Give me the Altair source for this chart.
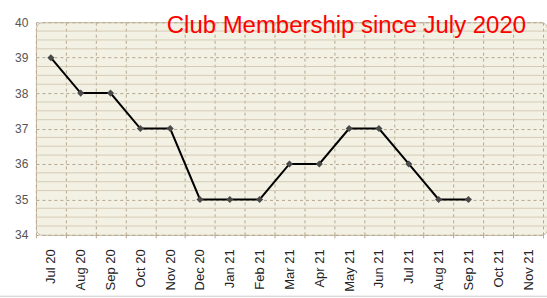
import altair as alt
import pandas as pd

months = ["Jul 20", "Aug 20", "Sep 20", "Oct 20", "Nov 20", "Dec 20", "Jan 21", "Feb 21",
          "Mar 21", "Apr 21", "May 21", "Jun 21", "Jul 21", "Aug 21", "Sep 21", "Oct 21", "Nov 21"]
members = [39, 38, 38, 37, 37, 35, 35, 35, 36, 36, 37, 37, 36, 35, 35, None, None]
major_ticks = [34, 35, 36, 37, 38, 39, 40]
minor_levels = [34.25, 34.5, 34.75, 35.25, 35.5, 35.75, 36.25, 36.5, 36.75,
                37.25, 37.5, 37.75, 38.25, 38.5, 38.75, 39.25, 39.5, 39.75]
title_text = "Club Membership since July 2020"

df = pd.DataFrame({"month": months, "members": members})
df_minor = pd.DataFrame({"members": minor_levels})
df_title = pd.DataFrame({"t": [title_text]})

FONT = "Liberation Sans"
yscale = alt.Scale(domain=[34, 40], nice=False, zero=False)
xscale = alt.Scale(domain=months, range=[0, 508], paddingInner=0, paddingOuter=0)

xenc = alt.X("month:N", sort=months, scale=xscale,
             axis=alt.Axis(title=None, labelAngle=-90, tickBand="extent", grid=True,
                           gridDash=[3, 3], gridColor="#b4a68f", tickColor="#b4a68f",
                           tickDash=[3, 3], tickSize=5, labelPadding=9, domain=False,
                           labelFont=FONT, labelFontSize=13, labelColor="#222222"))
yaxis = alt.Axis(title=None, values=major_ticks, grid=True, gridDash=[3, 3],
                 gridColor="#b4a68f", ticks=False, domain=False, labelPadding=8,
                 labelFont=FONT, labelFontSize=12, labelColor="#555555")
yenc = alt.Y("members:Q", scale=yscale, axis=yaxis)

minor = alt.Chart(df_minor).mark_rule(color="#d6cbb6", strokeWidth=1).encode(y=yenc)

line = alt.Chart(df).mark_line(color="black", strokeWidth=2).encode(x=xenc, y=yenc)
pts = alt.Chart(df).mark_point(shape="diamond", filled=True, color="#4a4a4a", size=50, opacity=1).encode(
    x=xenc, y=yenc)

title = alt.Chart(df_title).mark_text(align="right", baseline="alphabetic", fontSize=24,
                                      color="#ff0000", font=FONT).encode(
    x=alt.value(491), y=alt.value(10.5), text="t:N")

bottom = alt.Chart(df_title).mark_rule(color="#cccccc", strokeWidth=1).encode(
    x=alt.value(-36), x2=alt.value(512), y=alt.value(274.5))

chart = alt.layer(minor, line, pts, title, bottom).properties(
    width=512, height=213,
    autosize=alt.AutoSizeParams(type="none"),
    padding={"left": 36, "top": 22, "right": 0, "bottom": 63},
    background="white",
).configure_view(fill="#f2f1e4", stroke="#c4b8a0", cornerRadius=6)

chart.save("out.html", embed_options={"renderer": "svg", "actions": False})
